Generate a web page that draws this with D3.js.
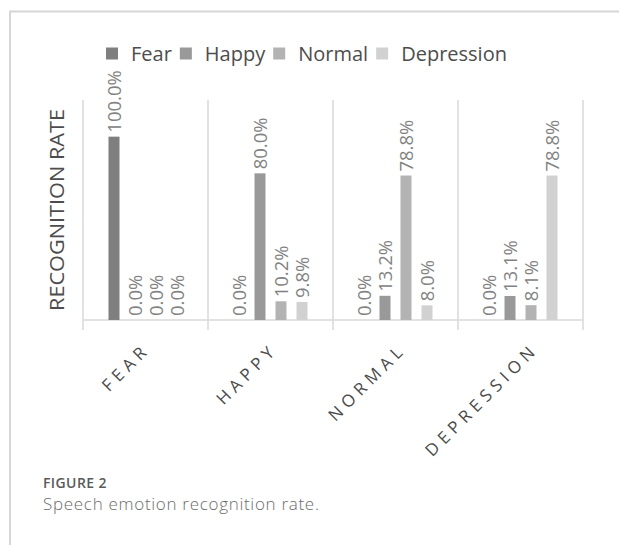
<!DOCTYPE html>
<html>
<head>
<meta charset="utf-8">
<script src="https://cdn.jsdelivr.net/npm/d3@7"></script>
<style>
  html, body { margin: 0; padding: 0; background: #fff; }
  svg { display: block; font-family: "Open Sans", sans-serif; }
</style>
</head>
<body>
<svg id="chart" width="619" height="545"></svg>
<script>
// ---- data ----
const categories = ["FEAR", "HAPPY", "NORMAL", "DEPRESSION"];
const series = ["Fear", "Happy", "Normal", "Depression"];
const fearValues = [100.0, 0.0, 0.0, 0.0];
const happyValues = [0.0, 80.0, 13.2, 13.1];
const normalValues = [0.0, 10.2, 78.8, 8.1];
const depressionValues = [0.0, 9.8, 8.0, 78.8];
const colors = ["#7f7f7f", "#999999", "#b3b3b3", "#d1d1d1"];
const figureLabel = "FIGURE 2";
const captionText = "Speech emotion recognition rate.";
const yTitle = "RECOGNITION RATE";

const seriesValues = [fearValues, happyValues, normalValues, depressionValues];
const table = [];
categories.forEach((c, ci) => series.forEach((s, si) => table.push({cat: c, ser: s, si, value: seriesValues[si][ci]})));

const svg = d3.select("#chart");

// outer frame lines
svg.append("line").attr("x1", 10).attr("x2", 619).attr("y1", 11.5).attr("y2", 11.5)
  .attr("stroke", "#d6d6d6").attr("stroke-width", 2);
svg.append("line").attr("x1", 10).attr("x2", 10).attr("y1", 10.5).attr("y2", 545)
  .attr("stroke", "#d6d6d6").attr("stroke-width", 2);

// scales
const x0 = d3.scaleBand().domain(categories).range([83, 583]).padding(0);
const x1 = d3.scaleBand().domain(series).range([-42, 42]).paddingInner(10/21).paddingOuter(5/21);
const y = d3.scaleLinear().domain([0, 120]).range([320, 100]);

// gridlines / category separators
const bounds = categories.map(c => x0(c)).concat([x0.range()[1]]);
svg.append("g").selectAll("line").data(bounds).join("line")
  .attr("x1", d => d).attr("x2", d => d)
  .attr("y1", y(120)).attr("y2", y(0) + 10)
  .attr("stroke", "#d9d9d9").attr("stroke-width", 1.5);
svg.append("line").attr("x1", x0.range()[0]).attr("x2", x0.range()[1])
  .attr("y1", y(0)).attr("y2", y(0)).attr("stroke", "#d9d9d9").attr("stroke-width", 1.5);

// bars
const cx = d => x0(d.cat) + x0.bandwidth() / 2 + x1(d.ser);
svg.append("g").selectAll("rect").data(table).join("rect")
  .attr("x", d => cx(d))
  .attr("width", x1.bandwidth())
  .attr("y", d => y(d.value))
  .attr("height", d => y(0) - y(d.value))
  .attr("fill", d => colors[d.si]);

// data labels
svg.append("g").selectAll("text").data(table).join("text")
  .attr("transform", d => `translate(${cx(d) + x1.bandwidth() / 2},${y(d.value) - 4}) rotate(-90)`)
  .attr("dy", "0.36em")
  .attr("text-anchor", "start")
  .attr("font-size", 18.5)
  .attr("fill", "#828282")
  .text(d => d.value.toFixed(1) + "%");

// category labels
const catG = svg.append("g");
const ls = 5;
categories.forEach(c => {
  const t = catG.append("text")
    .attr("font-size", 17)
    .attr("letter-spacing", ls + "px")
    .attr("fill", "#4a4a4a")
    .attr("text-anchor", "end")
    .text(c);
  const L = t.node().getComputedTextLength() - ls;
  const ex = x0(c) + x0.bandwidth() / 2 - 6 + 0.146 * L + ls * 0.707;
  const ey = 354 - ls * 0.707;
  t.attr("transform", `translate(${ex},${ey}) rotate(-45)`);
});

// y title
svg.append("text")
  .attr("transform", "translate(57,210) rotate(-90)")
  .attr("text-anchor", "middle")
  .attr("dy", "0.36em")
  .attr("font-size", 19.5)
  .attr("fill", "#4d4d4d")
  .attr("textLength", 202)
  .attr("lengthAdjust", "spacingAndGlyphs")
  .text(yTitle);

// legend
const lg = svg.append("g");
let lx = 106;
series.forEach((s, i) => {
  lg.append("rect").attr("x", lx).attr("y", 47.5).attr("width", 12).attr("height", 12).attr("fill", colors[i]);
  const t = lg.append("text").attr("x", lx + 25).attr("y", 61).attr("font-size", 20).attr("fill", "#4d4d4d").text(s);
  lx = lx + 25 + t.node().getComputedTextLength() + 8;
});

// caption
svg.append("text").attr("x", 43).attr("y", 488).attr("font-size", 14).attr("font-weight", 600)
  .attr("letter-spacing", "0.4px")
  .attr("fill", "#5a5a5a").text(figureLabel);
svg.append("text").attr("x", 43).attr("y", 510).attr("font-size", 17).attr("font-weight", 300)
  .attr("letter-spacing", "0.7px")
  .attr("fill", "#6b6b6b").text(captionText);
</script>
</body>
</html>
